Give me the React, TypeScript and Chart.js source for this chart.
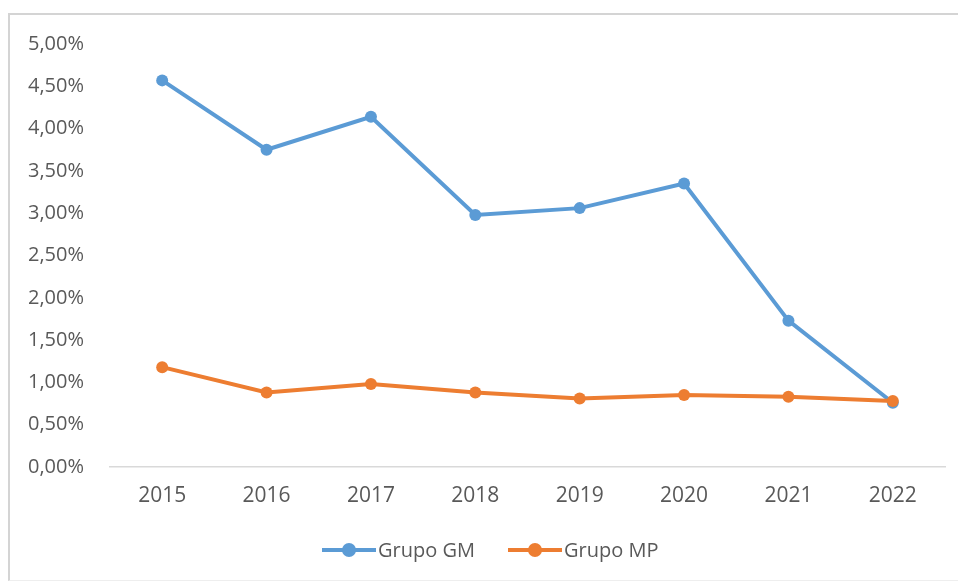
import React, { useEffect, useRef } from "react";
import { Chart, registerables } from "chart.js";

Chart.register(...registerables);

const categories = ["2015", "2016", "2017", "2018", "2019", "2020", "2021", "2022"];
const grupoGM = [0.0457, 0.0375, 0.0414, 0.0298, 0.0306, 0.0335, 0.0173, 0.0076];
const grupoMP = [0.0118, 0.0088, 0.0098, 0.0088, 0.0081, 0.0085, 0.0083, 0.0078];
const seriesNames = ["Grupo GM", "Grupo MP"];
const seriesColors = ["#5b9bd5", "#ed7d31"];

const FONT = "'Open Sans', 'Noto Sans', sans-serif";
const TEXT = "#595959";

export default function App() {
  const ref = useRef<HTMLCanvasElement | null>(null);

  useEffect(() => {
    if (!ref.current) return;
    const chart = new Chart(ref.current, {
      type: "line",
      data: {
        labels: categories,
        datasets: [
          {
            label: seriesNames[0],
            data: grupoGM,
            borderColor: seriesColors[0],
            backgroundColor: seriesColors[0],
            borderWidth: 4,
            pointRadius: 6,
            pointBorderWidth: 0,
            tension: 0,
            order: 1,
          },
          {
            label: seriesNames[1],
            data: grupoMP,
            borderColor: seriesColors[1],
            backgroundColor: seriesColors[1],
            borderWidth: 4,
            pointRadius: 6,
            pointBorderWidth: 0,
            tension: 0,
            order: 0,
          },
        ],
      },
      options: {
        animation: false,
        responsive: false,
        maintainAspectRatio: false,
        layout: { padding: { left: 0, right: 13, top: 44, bottom: 0 } },
        plugins: { legend: { display: false }, tooltip: { enabled: false } },
        scales: {
          x: {
            offset: true,
            grid: { display: false, drawTicks: false },
            border: { display: true, color: "#d9d9d9", width: 1.5 },
            ticks: { color: TEXT, font: { family: FONT, size: 21 }, padding: 16, maxRotation: 0 },
            afterFit: (s: any) => {
              s.height = 118;
            },
          },
          y: {
            min: 0,
            max: 0.05,
            grid: { display: false, drawTicks: false },
            border: { display: false },
            ticks: {
              stepSize: 0.005,
              color: TEXT,
              font: { family: FONT, size: 20 },
              padding: 26,
              callback: (v: any) => (Number(v) * 100).toFixed(2).replace(".", ",") + "%",
            },
            afterFit: (s: any) => {
              s.width = 110;
            },
          },
        },
      },
    });
    return () => chart.destroy();
  }, []);

  const legendItem = (i: number, left: number) => (
    <div
      key={i}
      style={{ position: "absolute", left, top: 538, height: 24, display: "flex", alignItems: "center" }}
    >
      <div style={{ position: "relative", width: 54, height: 24 }}>
        <div
          style={{ position: "absolute", left: 0, top: 10, width: 54, height: 4, background: seriesColors[i] }}
        />
        <div
          style={{
            position: "absolute",
            left: 20,
            top: 5,
            width: 14,
            height: 14,
            borderRadius: 7,
            background: seriesColors[i],
          }}
        />
      </div>
      <span style={{ fontFamily: FONT, fontSize: 20, color: TEXT, marginLeft: 2, lineHeight: "24px" }}>
        {seriesNames[i]}
      </span>
    </div>
  );

  return (
    <div style={{ position: "fixed", left: 0, top: 0, width: 958, height: 585, background: "#fff", overflow: "hidden" }}>
      <div
        style={{
          position: "absolute",
          left: 8,
          top: 13,
          width: 980,
          height: 568,
          borderTop: "2px solid #d4d4d4",
          borderLeft: "2px solid #d4d4d4",
          borderBottom: "1px solid #eeeeee",
          boxSizing: "border-box",
        }}
      />
      <canvas ref={ref} width={958} height={585} style={{ position: "absolute", left: 0, top: 0 }} />
      {legendItem(0, 322)}
      {legendItem(1, 508)}
    </div>
  );
}
